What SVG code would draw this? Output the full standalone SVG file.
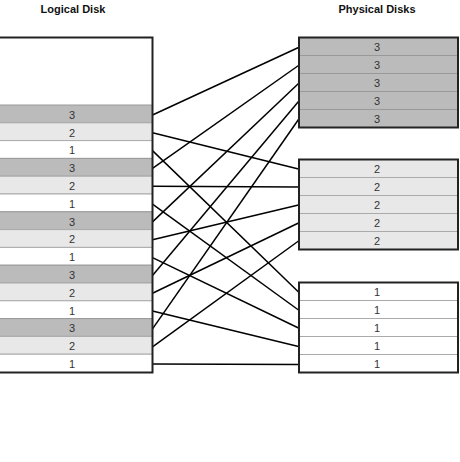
<svg xmlns="http://www.w3.org/2000/svg" width="460" height="462" viewBox="0 0 460 462">
<style>
.title{font-family:"Liberation Sans",Arial,sans-serif;font-size:11px;font-weight:bold;fill:#111;text-anchor:middle}
.num{font-family:"Liberation Sans",Arial,sans-serif;font-size:11px;fill:#333;text-anchor:middle}
.r3{fill:#bbbbbb;stroke:#999;stroke-width:1}
.r2{fill:#e8e8e8;stroke:#aaa;stroke-width:1}
.r1{fill:#ffffff;stroke:#aaa;stroke-width:1}
.frame{fill:none;stroke:#222;stroke-width:2}
.conn line{stroke:#000;stroke-width:1.5}
</style>
<rect width="460" height="462" fill="#fff"/>
<text class="title" x="73" y="13">Logical Disk</text>
<text class="title" x="377" y="13">Physical Disks</text>
<g id="connectors" class="conn">
<line x1="152.5" y1="115" x2="298.5" y2="47.5"/>
<line x1="152.5" y1="132.7" x2="298.5" y2="169"/>
<line x1="152.5" y1="150.6" x2="298.5" y2="292"/>
<line x1="152.5" y1="168.4" x2="298.5" y2="65.5"/>
<line x1="152.5" y1="186.2" x2="298.5" y2="187"/>
<line x1="152.5" y1="204.1" x2="298.5" y2="310"/>
<line x1="152.5" y1="221.9" x2="298.5" y2="83.5"/>
<line x1="152.5" y1="239.8" x2="298.5" y2="205"/>
<line x1="152.5" y1="257.6" x2="298.5" y2="328"/>
<line x1="152.5" y1="275.4" x2="298.5" y2="101.5"/>
<line x1="152.5" y1="293.3" x2="298.5" y2="223"/>
<line x1="152.5" y1="311.1" x2="298.5" y2="346.5"/>
<line x1="152.5" y1="328.9" x2="298.5" y2="119.5"/>
<line x1="152.5" y1="346.8" x2="298.5" y2="241"/>
<line x1="152.5" y1="364.1" x2="298.5" y2="364.5"/>
</g>
<g id="logical-disk">
<rect x="-10" y="37.5" width="162.5" height="335" fill="#fff"/>
<rect class="r3" x="-10" y="105" width="162.5" height="17.8"/>
<rect class="r2" x="-10" y="122.8" width="162.5" height="17.8"/>
<rect class="r1" x="-10" y="140.6" width="162.5" height="17.8"/>
<rect class="r3" x="-10" y="158.4" width="162.5" height="17.8"/>
<rect class="r2" x="-10" y="176.2" width="162.5" height="17.8"/>
<rect class="r1" x="-10" y="194" width="162.5" height="17.8"/>
<rect class="r3" x="-10" y="211.8" width="162.5" height="17.8"/>
<rect class="r2" x="-10" y="229.6" width="162.5" height="17.8"/>
<rect class="r1" x="-10" y="247.4" width="162.5" height="17.8"/>
<rect class="r3" x="-10" y="265.2" width="162.5" height="17.8"/>
<rect class="r2" x="-10" y="283" width="162.5" height="17.8"/>
<rect class="r1" x="-10" y="300.8" width="162.5" height="17.8"/>
<rect class="r3" x="-10" y="318.6" width="162.5" height="17.8"/>
<rect class="r2" x="-10" y="336.4" width="162.5" height="17.8"/>
<rect class="r1" x="-10" y="354.2" width="162.5" height="18.3"/>
<text class="num" x="72" y="118.7">3</text>
<text class="num" x="72" y="136.5">2</text>
<text class="num" x="72" y="154.3">1</text>
<text class="num" x="72" y="172.1">3</text>
<text class="num" x="72" y="189.9">2</text>
<text class="num" x="72" y="207.7">1</text>
<text class="num" x="72" y="225.5">3</text>
<text class="num" x="72" y="243.3">2</text>
<text class="num" x="72" y="261.1">1</text>
<text class="num" x="72" y="278.9">3</text>
<text class="num" x="72" y="296.7">2</text>
<text class="num" x="72" y="314.5">1</text>
<text class="num" x="72" y="332.3">3</text>
<text class="num" x="72" y="350.1">2</text>
<text class="num" x="72" y="367.9">1</text>
<rect class="frame" x="-10" y="37.5" width="162.5" height="335"/>
</g>
<g id="physical-disk-3">
<rect class="r3" x="299" y="37.5" width="159" height="18"/>
<rect class="r3" x="299" y="55.5" width="159" height="18"/>
<rect class="r3" x="299" y="73.5" width="159" height="18"/>
<rect class="r3" x="299" y="91.5" width="159" height="18"/>
<rect class="r3" x="299" y="109.5" width="159" height="18"/>
<text class="num" x="377" y="51">3</text>
<text class="num" x="377" y="69">3</text>
<text class="num" x="377" y="87">3</text>
<text class="num" x="377" y="105">3</text>
<text class="num" x="377" y="123">3</text>
<rect class="frame" x="299" y="37.5" width="159" height="90"/>
</g>
<g id="physical-disk-2">
<rect class="r2" x="299" y="159.5" width="159" height="18"/>
<rect class="r2" x="299" y="177.5" width="159" height="18"/>
<rect class="r2" x="299" y="195.5" width="159" height="18"/>
<rect class="r2" x="299" y="213.5" width="159" height="18"/>
<rect class="r2" x="299" y="231.5" width="159" height="18"/>
<text class="num" x="377" y="173">2</text>
<text class="num" x="377" y="191">2</text>
<text class="num" x="377" y="209">2</text>
<text class="num" x="377" y="227">2</text>
<text class="num" x="377" y="245">2</text>
<rect class="frame" x="299" y="159.5" width="159" height="90"/>
</g>
<g id="physical-disk-1">
<rect class="r1" x="299" y="282.5" width="159" height="18"/>
<rect class="r1" x="299" y="300.5" width="159" height="18"/>
<rect class="r1" x="299" y="318.5" width="159" height="18"/>
<rect class="r1" x="299" y="336.5" width="159" height="18"/>
<rect class="r1" x="299" y="354.5" width="159" height="18"/>
<text class="num" x="377" y="296">1</text>
<text class="num" x="377" y="314">1</text>
<text class="num" x="377" y="332">1</text>
<text class="num" x="377" y="350">1</text>
<text class="num" x="377" y="368">1</text>
<rect class="frame" x="299" y="282.5" width="159" height="90"/>
</g>
</svg>
